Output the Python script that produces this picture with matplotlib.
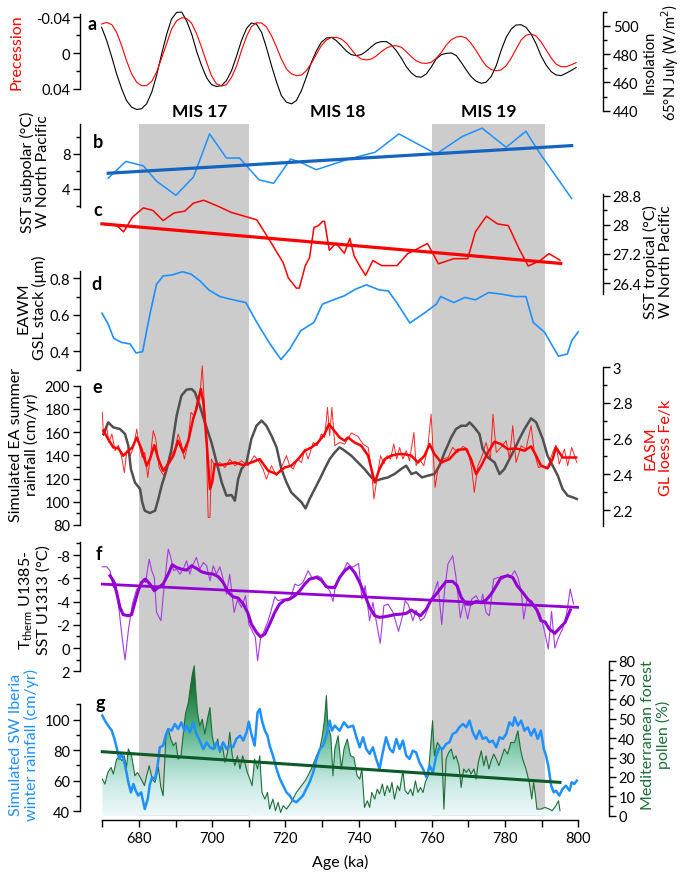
import matplotlib.pyplot as plt
import numpy as np
from matplotlib.colors import LinearSegmentedColormap
from matplotlib.transforms import blended_transform_factory

plt.rcParams['font.family'] = ['Lato', 'DejaVu Sans']
plt.rcParams['font.size'] = 10.5
plt.rcParams['axes.linewidth'] = 1.0

# ---------------- data ----------------
MIS_SHADE = [(680, 710), (760, 791)]
MIS_NAMES = ['MIS 17', 'MIS 18', 'MIS 19']
MIS_LABEL_AGE = [696.7, 734.4, 775.6]

# a: precession and 65N July insolation
A_AGE = [669.8, 671.2, 672.6, 673.9, 675.3, 676.6, 678.0, 679.4, 680.7, 682.1,
         683.5, 684.8, 686.2, 687.6, 688.9, 690.3, 691.7, 693.0, 694.4, 695.7,
         697.1, 698.5, 699.8, 701.2, 702.6, 703.9, 705.3, 706.7, 708.0, 709.4,
         710.7, 712.1, 713.5, 714.8, 716.2, 717.6, 718.9, 720.3, 721.7, 723.0,
         724.4, 725.7, 727.1, 728.5, 729.8, 731.2, 732.6, 733.9, 735.3, 736.7,
         738.0, 739.4, 740.7, 742.1, 743.5, 744.8, 746.2, 747.6, 748.9, 750.3,
         751.7, 753.0, 754.4, 755.7, 757.1, 758.5, 759.8, 761.2, 762.6, 763.9,
         765.3, 766.7, 768.0, 769.4, 770.7, 772.1, 773.5, 774.8, 776.2, 777.6,
         778.9, 780.3, 781.7, 783.0, 784.4, 785.7, 787.1, 788.5, 789.8, 791.2,
         792.6, 793.9, 795.3, 796.7, 798.0, 799.4]
PRECESSION = [-0.0325, -0.0344, -0.0318, -0.0232, -0.0083, 0.0084, 0.0233, 0.0326, 0.0363, 0.0363,
              0.0315, 0.0214, 0.0054, -0.0110, -0.0269, -0.0362, -0.0396, -0.0388, -0.0333, -0.0221,
              -0.0065, 0.0103, 0.0251, 0.0344, 0.0367, 0.0352, 0.0270, 0.0140, -0.0028, -0.0188,
              -0.0295, -0.0340, -0.0336, -0.0295, -0.0195, -0.0065, 0.0065, 0.0177, 0.0233, 0.0251,
              0.0244, 0.0196, 0.0114, 0.0010, -0.0083, -0.0147, -0.0176, -0.0176, -0.0158, -0.0110,
              -0.0042, 0.0028, 0.0065, 0.0076, 0.0065, 0.0032, -0.0017, -0.0057, -0.0080, -0.0083,
              -0.0065, -0.0017, 0.0039, 0.0084, 0.0110, 0.0114, 0.0103, 0.0058, -0.0009, -0.0087,
              -0.0150, -0.0180, -0.0188, -0.0169, -0.0110, -0.0028, 0.0065, 0.0140, 0.0184, 0.0196,
              0.0188, 0.0140, 0.0054, -0.0045, -0.0147, -0.0199, -0.0214, -0.0191, -0.0128, -0.0038,
              0.0054, 0.0121, 0.0151, 0.0151, 0.0132, 0.0106]
INSOLATION = [498.9, 489.5, 477.7, 466.0, 455.4, 447.2, 442.5, 440.9, 441.4, 444.9,
              453.1, 464.8, 480.1, 494.2, 504.7, 509.4, 509.6, 503.5, 494.2, 482.4,
              471.9, 463.2, 458.5, 457.1, 457.8, 461.3, 468.3, 478.9, 489.5, 498.1,
              501.9, 501.2, 495.3, 484.8, 471.9, 460.1, 450.7, 446.0, 444.9, 447.2,
              454.3, 463.6, 474.2, 482.4, 488.3, 491.3, 491.8, 489.5, 485.9, 482.0,
              479.6, 478.9, 479.6, 482.0, 485.2, 487.8, 488.8, 488.8, 486.6, 482.4,
              477.0, 471.2, 466.7, 464.1, 463.7, 466.0, 470.7, 476.6, 479.6, 480.5,
              480.8, 478.9, 474.2, 468.8, 464.1, 460.8, 459.4, 460.1, 464.1, 471.9,
              482.4, 491.8, 497.7, 500.5, 500.7, 498.9, 494.2, 487.1, 478.9, 472.3,
              467.6, 465.3, 464.8, 466.5, 468.3, 470.5]

# b: SST subpolar W North Pacific
SST_SUB = [(671.6, 5.23), (676.4, 7.15), (681.2, 6.65), (684.8, 4.9), (690.1, 3.27),
           (694.9, 5.38), (699.3, 10.3), (703.9, 7.54), (707.5, 7.54), (712.8, 5.04),
           (716.8, 4.65), (721.4, 7.42), (724.2, 7.04), (728.4, 6.2), (737.3, 7.42),
           (744.5, 8.2), (751.0, 10.3), (761.2, 8.0), (768.3, 10.0), (773.7, 10.96),
           (780.3, 8.77), (785.7, 10.6), (789.3, 8.2), (798.2, 2.9)]
SST_SUB_TREND = [(671.6, 5.8), (798.2, 8.96)]

# c: SST tropical W North Pacific
SST_TROP = [(670.4, 28.03), (674.0, 27.98), (675.8, 27.81), (678.2, 28.21), (681.2, 28.47),
            (683.8, 28.40), (686.6, 28.12), (689.6, 28.33), (692.5, 28.38), (694.9, 28.60),
            (697.7, 28.68), (701.5, 28.52), (705.1, 28.35), (712.2, 28.14), (715.8, 27.56),
            (719.4, 26.96), (720.8, 26.54), (723.0, 26.26), (723.8, 26.26), (725.4, 26.87),
            (726.6, 27.10), (727.8, 27.93), (729.0, 27.98), (730.2, 28.10), (730.7, 28.10),
            (732.0, 27.30), (733.8, 27.50), (736.1, 27.22), (737.6, 27.63), (738.8, 27.14),
            (740.3, 26.87), (741.9, 26.61), (743.9, 27.02), (746.3, 26.88), (750.5, 26.88),
            (753.4, 27.21), (755.8, 27.33), (758.8, 27.49), (761.8, 26.93), (766.0, 27.07),
            (769.8, 27.07), (771.9, 27.81), (774.9, 28.24), (777.9, 28.03), (780.9, 27.98),
            (783.9, 27.33), (786.3, 26.87), (789.3, 27.00), (792.0, 27.21), (795.0, 27.03)]
SST_TROP_TREND = [(669.9, 28.03), (795.2, 26.94)]

# d: EAWM GSL grain-size stack
GSL = [(669.9, 0.609), (671.6, 0.549), (673.1, 0.471), (675.2, 0.449), (677.6, 0.44),
       (679.2, 0.391), (681.0, 0.398), (683.0, 0.604), (684.8, 0.767), (686.6, 0.813),
       (689.0, 0.818), (691.9, 0.836), (694.3, 0.822), (696.7, 0.785), (699.1, 0.736),
       (702.1, 0.70), (705.1, 0.685), (709.2, 0.667), (712.2, 0.558), (715.8, 0.44),
       (718.8, 0.355), (721.2, 0.413), (724.2, 0.513), (727.8, 0.558), (730.1, 0.658),
       (733.1, 0.682), (736.1, 0.704), (739.1, 0.74), (742.1, 0.764), (745.7, 0.736),
       (748.1, 0.731), (750.4, 0.667), (754.0, 0.555), (755.8, 0.58), (758.2, 0.613),
       (761.2, 0.658), (762.4, 0.70), (766.0, 0.667), (769.0, 0.695), (771.9, 0.682),
       (775.5, 0.722), (779.1, 0.713), (782.7, 0.70), (785.7, 0.70), (787.7, 0.558),
       (790.8, 0.504), (792.9, 0.431), (794.6, 0.373), (797.0, 0.385), (798.2, 0.458),
       (800.0, 0.507)]

# e: simulated EA summer rainfall and GL loess Fe/k
EA_RAIN = [(670.3, 158.4), (671.6, 168.4), (673.0, 164.1), (674.8, 162.7), (676.2, 158.4),
           (677.1, 148.3), (677.8, 128.2), (678.9, 116.7), (680.3, 111.0), (680.9, 99.5),
           (681.6, 92.3), (683.0, 90.3), (684.4, 92.3), (685.3, 102.4), (686.2, 113.9),
           (687.6, 128.2), (688.9, 145.5), (690.3, 174.2), (691.6, 191.4), (693.0, 196.6),
           (694.4, 197.1), (695.3, 194.3), (696.6, 182.8), (698.0, 168.4), (699.8, 151.2),
           (701.2, 134.0), (702.6, 116.7), (703.9, 105.3), (705.3, 105.8), (706.2, 100.9),
           (707.1, 119.6), (708.0, 128.2), (709.4, 134.0), (710.7, 154.1), (712.1, 165.5),
           (713.5, 169.9), (714.8, 165.5), (716.2, 156.9), (717.6, 146.8), (718.9, 128.2),
           (720.3, 116.7), (721.6, 108.1), (723.0, 103.8), (724.4, 99.5), (725.5, 94.3),
           (726.6, 102.4), (728.0, 111.0), (729.4, 119.6), (730.7, 128.2), (732.1, 136.8),
           (733.5, 142.6), (734.8, 146.9), (736.2, 144.0), (738.0, 139.7), (739.8, 134.0),
           (741.6, 128.2), (743.5, 121.0), (744.8, 118.2), (746.2, 119.6), (748.0, 121.0),
           (749.8, 123.9), (751.6, 128.2), (753.0, 131.1), (754.4, 123.9), (755.7, 125.4),
           (757.3, 121.0), (758.9, 122.5), (760.7, 123.9), (762.1, 131.1), (763.5, 142.6),
           (765.3, 155.5), (766.6, 162.7), (768.0, 165.5), (769.4, 165.5), (770.3, 168.4),
           (771.6, 164.1), (773.0, 158.4), (773.9, 145.4), (775.3, 138.3), (777.1, 134.0),
           (778.5, 123.9), (779.8, 128.2), (781.2, 136.8), (782.6, 145.5), (783.9, 154.1),
           (785.3, 162.7), (787.1, 171.9), (788.5, 168.4), (789.4, 161.2), (790.3, 154.1),
           (791.6, 139.7), (793.0, 131.1), (794.4, 122.5), (795.7, 111.0), (797.1, 105.3),
           (798.5, 103.8), (799.6, 102.4)]
FEK_RAW = [(670.0, 2.746), (670.3, 2.616), (671.2, 2.662), (671.8, 2.578), (672.6, 2.625),
           (673.5, 2.532), (674.4, 2.563), (675.3, 2.494), (676.0, 2.410), (676.7, 2.532),
           (677.6, 2.504), (678.5, 2.550), (679.4, 2.653), (680.1, 2.560), (680.9, 2.494),
           (681.6, 2.522), (682.4, 2.382), (683.1, 2.494), (683.9, 2.644), (684.6, 2.597),
           (685.5, 2.438), (686.2, 2.410), (686.9, 2.392), (687.8, 2.466), (688.7, 2.504),
           (689.8, 2.541), (690.7, 2.625), (691.6, 2.569), (692.4, 2.485), (693.3, 2.560),
           (694.2, 2.746), (695.1, 2.728), (696.0, 2.821), (696.7, 2.858), (697.3, 3.007),
           (697.8, 2.821), (698.4, 2.578), (698.9, 2.159), (699.4, 2.159), (699.8, 2.485),
           (700.7, 2.448), (702.1, 2.466), (703.5, 2.438), (704.8, 2.485), (706.2, 2.448),
           (708.0, 2.476), (709.8, 2.448), (711.5, 2.504), (712.6, 2.476), (713.9, 2.429),
           (714.8, 2.373), (716.2, 2.448), (717.6, 2.392), (718.7, 2.429), (720.3, 2.504),
           (721.2, 2.448), (722.1, 2.429), (723.3, 2.485), (724.4, 2.466), (725.3, 2.541),
           (726.2, 2.485), (727.6, 2.578), (728.7, 2.560), (729.8, 2.625), (730.7, 2.606),
           (731.5, 2.774), (732.1, 2.616), (732.7, 2.774), (733.5, 2.560), (734.8, 2.578),
           (736.2, 2.569), (738.0, 2.631), (739.8, 2.612), (741.2, 2.569), (742.6, 2.550),
           (743.5, 2.429), (744.2, 2.261), (745.1, 2.392), (746.0, 2.504), (746.9, 2.457),
           (747.8, 2.504), (748.7, 2.485), (749.6, 2.569), (750.4, 2.485), (751.2, 2.550),
           (752.1, 2.485), (753.0, 2.532), (753.9, 2.476), (755.1, 2.634), (755.7, 2.448),
           (756.6, 2.485), (757.8, 2.448), (758.9, 2.550), (759.8, 2.737), (760.4, 2.504),
           (760.9, 2.327), (761.8, 2.448), (763.0, 2.485), (764.4, 2.494), (765.7, 2.550),
           (767.1, 2.522), (768.5, 2.556), (769.8, 2.541), (770.9, 2.429), (771.6, 2.299),
           (772.6, 2.448), (773.9, 2.513), (774.8, 2.578), (776.0, 2.485), (776.7, 2.737),
           (777.6, 2.522), (778.9, 2.550), (780.3, 2.588), (781.2, 2.485), (782.1, 2.672),
           (783.0, 2.466), (784.4, 2.560), (785.7, 2.541), (787.1, 2.672), (788.0, 2.522),
           (789.1, 2.438), (790.3, 2.448), (791.6, 2.438), (793.0, 2.522), (793.9, 2.563),
           (794.8, 2.457), (796.2, 2.541), (797.1, 2.448), (798.2, 2.550), (799.6, 2.466)]
FEK_SMOOTH = [(670.3, 2.644), (671.6, 2.597), (673.0, 2.550), (674.4, 2.545), (675.7, 2.504),
              (677.1, 2.532), (678.2, 2.550), (679.4, 2.606), (680.7, 2.541), (682.1, 2.448),
              (683.0, 2.485), (684.2, 2.563), (685.3, 2.485), (686.6, 2.420), (688.0, 2.457),
              (689.4, 2.504), (690.7, 2.588), (692.1, 2.522), (693.5, 2.588), (694.8, 2.709),
              (695.7, 2.765), (696.9, 2.877), (697.6, 2.802), (698.5, 2.578), (699.4, 2.317),
              (700.0, 2.354), (700.7, 2.457), (702.1, 2.451), (703.9, 2.457), (706.2, 2.466),
              (708.5, 2.451), (710.7, 2.466), (713.0, 2.485), (715.3, 2.420), (717.6, 2.401),
              (719.8, 2.438), (721.6, 2.448), (723.5, 2.485), (725.3, 2.532), (727.1, 2.550),
              (728.9, 2.578), (730.7, 2.625), (731.9, 2.681), (733.0, 2.653), (734.8, 2.606),
              (736.2, 2.588), (737.1, 2.606), (738.9, 2.578), (740.7, 2.560), (742.6, 2.504),
              (744.4, 2.354), (745.7, 2.429), (747.1, 2.485), (748.9, 2.504), (750.7, 2.513),
              (752.5, 2.513), (754.4, 2.504), (756.2, 2.466), (758.0, 2.504), (759.4, 2.569),
              (760.7, 2.513), (762.6, 2.466), (764.8, 2.485), (767.1, 2.537), (769.4, 2.541),
              (770.7, 2.485), (772.1, 2.401), (773.5, 2.448), (775.3, 2.522), (777.1, 2.582),
              (778.9, 2.569), (780.7, 2.541), (783.0, 2.545), (785.3, 2.532), (787.1, 2.556),
              (788.5, 2.504), (789.8, 2.448), (791.6, 2.433), (793.0, 2.485), (793.9, 2.550),
              (795.7, 2.494), (797.6, 2.494), (799.4, 2.494)]

# f: Ttherm U1385 - SST U1313
DT_RAW = [(670.0, -6.99), (671.2, -6.99), (672.1, -6.65), (673.0, -5.21), (673.6, -5.64),
          (674.6, -3.21), (675.3, -1.20), (676.2, 1.03), (677.1, -1.49), (678.2, -3.78),
          (679.4, -5.07), (680.3, -5.21), (681.2, -5.93), (681.8, -5.64), (682.8, -7.65),
          (683.5, -6.65), (684.2, -6.07), (684.8, -3.07), (686.0, -2.35), (686.9, -5.36),
          (688.0, -8.51), (688.7, -7.79), (689.5, -6.65), (690.3, -6.79), (691.2, -6.36),
          (692.1, -6.79), (693.0, -7.51), (693.9, -6.36), (694.6, -7.08), (695.7, -7.79),
          (696.6, -6.79), (697.6, -7.36), (698.5, -7.08), (699.4, -5.79), (700.3, -7.08),
          (701.2, -6.36), (702.1, -6.99), (703.0, -5.93), (703.9, -4.64), (704.8, -6.36),
          (706.0, -3.07), (706.9, -4.13), (708.0, -3.50), (709.1, -4.50), (710.0, -2.06),
          (710.9, -1.49), (711.8, -0.92), (712.4, 1.09), (713.2, -0.77), (714.2, -1.49),
          (715.3, -2.35), (716.2, -3.35), (717.1, -4.41), (718.0, -4.07), (719.4, -4.21),
          (720.6, -4.07), (721.6, -4.50), (722.6, -5.50), (723.6, -5.36), (724.8, -5.64),
          (726.2, -6.65), (727.3, -6.02), (728.7, -6.22), (729.8, -6.07), (730.7, -5.50),
          (732.1, -4.93), (733.0, -4.01), (733.6, -5.21), (734.8, -5.93), (736.9, -7.36),
          (738.0, -6.93), (739.1, -7.08), (740.0, -7.28), (740.9, -4.21), (741.8, -5.36),
          (743.0, -2.35), (743.9, -3.93), (744.8, -2.35), (745.9, -0.40), (746.9, -3.64),
          (748.0, -3.78), (749.4, -3.07), (750.9, -1.43), (752.0, -2.78), (752.7, -4.07),
          (753.6, -3.72), (754.8, -2.35), (755.7, -3.27), (756.9, -2.35), (758.0, -2.64),
          (759.4, -3.78), (760.6, -4.79), (761.6, -5.73), (762.7, -2.01), (763.5, -5.07),
          (764.4, -7.22), (765.7, -7.94), (766.6, -6.07), (767.8, -2.58), (768.7, -4.01),
          (769.8, -2.49), (770.9, -4.21), (772.1, -4.50), (773.3, -3.78), (773.9, -4.64),
          (774.8, -3.07), (775.7, -2.78), (776.9, -5.93), (778.0, -6.07), (779.4, -5.93),
          (780.7, -6.36), (781.6, -6.13), (782.6, -6.65), (783.5, -6.07), (784.4, -4.93),
          (785.1, -2.49), (786.0, -4.21), (787.3, -4.07), (788.5, -3.35), (789.6, -2.92),
          (790.7, -1.55), (791.8, 0.09), (792.7, -3.15), (793.6, 0.00), (794.6, -0.92),
          (795.7, -1.63), (796.8, -2.92), (797.8, -5.07), (798.7, -3.78)]
DT_SMOOTH = [(672.1, -6.22), (673.0, -5.79), (673.9, -4.79), (674.8, -3.50), (675.7, -2.87),
             (677.1, -2.78), (678.0, -2.87), (678.9, -3.93), (679.8, -4.93), (680.7, -5.64),
             (681.8, -5.93), (683.0, -5.50), (684.2, -4.93), (685.3, -5.21), (686.6, -5.50),
             (688.0, -6.36), (689.1, -7.16), (690.3, -6.93), (691.6, -6.79), (693.0, -6.70),
             (694.4, -7.08), (695.7, -6.85), (697.1, -6.56), (698.7, -6.42), (700.3, -6.36),
             (701.7, -6.13), (703.0, -5.64), (704.4, -4.79), (705.7, -4.41), (707.1, -4.30),
             (708.5, -3.78), (709.8, -2.98), (710.7, -2.06), (712.1, -1.35), (713.2, -0.97),
             (714.4, -1.20), (715.7, -2.06), (717.1, -3.07), (718.4, -3.78), (719.8, -4.13),
             (721.2, -4.21), (722.6, -4.50), (723.9, -4.93), (725.3, -5.50), (726.6, -5.93),
             (728.5, -6.07), (729.8, -5.85), (731.2, -5.27), (732.5, -5.21), (733.5, -5.21),
             (734.8, -6.07), (736.2, -6.65), (737.6, -6.99), (738.9, -6.50), (740.3, -5.64),
             (741.6, -4.64), (743.0, -3.50), (744.4, -2.78), (745.7, -2.64), (747.1, -2.69),
             (748.5, -2.78), (749.8, -2.87), (751.6, -2.92), (753.0, -2.98), (754.4, -3.27),
             (755.7, -2.98), (756.9, -2.78), (758.5, -3.35), (759.8, -4.13), (761.2, -4.64),
             (762.6, -5.21), (763.9, -5.73), (765.7, -5.73), (766.9, -5.36), (768.0, -4.36),
             (769.4, -3.78), (770.7, -3.78), (772.1, -4.01), (773.5, -3.93), (774.8, -4.13),
             (776.2, -4.64), (777.6, -5.36), (778.9, -6.07), (780.7, -6.22), (782.1, -6.07),
             (783.3, -5.36), (784.8, -4.79), (786.2, -4.21), (787.5, -3.78), (788.7, -3.27),
             (789.8, -2.35), (790.9, -2.26), (792.1, -1.63), (793.6, -1.26), (795.1, -1.78),
             (796.4, -2.21), (797.8, -3.27)]
DT_TREND = [(670.0, -5.5), (799.8, -3.5)]

# g: simulated SW Iberia winter rainfall and Mediterranean forest pollen
IB_RAIN = [(670.0, 102.7), (670.7, 99.4), (671.6, 96.1), (672.6, 92.8), (673.3, 87.4),
           (673.9, 81.9), (674.6, 74.3), (675.3, 77.6), (676.0, 72.1), (676.6, 65.5),
           (677.1, 59.0), (677.8, 52.4), (678.5, 57.9), (679.1, 53.5), (679.8, 50.3),
           (680.6, 52.4), (681.2, 45.9), (681.6, 41.5), (682.4, 48.1), (683.0, 57.9),
           (683.6, 62.3), (684.4, 61.2), (685.1, 69.9), (685.7, 81.9), (686.6, 83.0),
           (687.3, 89.6), (688.0, 93.9), (688.9, 92.8), (689.8, 97.2), (690.7, 93.9),
           (691.6, 98.3), (692.4, 92.8), (693.0, 96.1), (693.9, 91.7), (694.8, 98.3),
           (695.7, 90.7), (696.6, 86.3), (697.6, 80.8), (698.5, 85.2), (699.4, 81.9),
           (700.3, 80.8), (701.2, 85.2), (702.1, 79.7), (703.0, 85.2), (703.9, 80.8),
           (704.8, 83.0), (705.7, 81.9), (706.6, 87.4), (707.6, 89.6), (708.5, 86.3),
           (709.4, 91.7), (710.0, 98.7), (710.7, 90.7), (711.6, 83.0), (712.4, 104.8),
           (713.0, 107.0), (713.6, 99.4), (714.4, 92.8), (715.1, 89.6), (715.7, 83.0),
           (716.6, 76.5), (717.6, 67.7), (718.5, 61.2), (719.4, 56.8), (720.3, 52.4),
           (721.2, 50.3), (722.1, 47.0), (723.0, 45.9), (723.9, 48.1), (724.8, 50.3),
           (725.7, 54.6), (726.6, 59.0), (727.6, 65.5), (728.5, 74.3), (729.4, 80.8),
           (730.3, 83.0), (731.2, 89.6), (732.1, 99.4), (732.7, 92.8), (733.5, 96.1),
           (734.8, 92.8), (736.0, 98.3), (737.1, 95.0), (738.5, 96.1), (739.4, 88.5),
           (740.3, 81.9), (741.2, 88.5), (742.1, 80.8), (743.0, 77.6), (743.9, 81.9),
           (744.8, 74.3), (745.7, 67.7), (746.6, 78.6), (747.5, 88.5), (748.5, 80.8),
           (749.4, 78.6), (750.3, 87.4), (751.2, 80.8), (752.1, 86.3), (753.0, 76.5),
           (753.9, 74.3), (754.8, 79.7), (755.7, 78.6), (756.6, 72.1), (757.6, 67.7),
           (758.5, 62.3), (759.4, 69.9), (760.3, 65.5), (761.2, 76.5), (762.1, 81.9),
           (763.0, 80.8), (763.9, 84.1), (764.8, 85.2), (765.7, 90.7), (766.6, 91.7),
           (767.5, 95.0), (768.5, 97.2), (769.4, 95.0), (770.3, 99.4), (771.2, 91.7),
           (772.1, 87.4), (773.0, 92.8), (773.9, 87.4), (774.8, 88.5), (775.7, 85.2),
           (776.6, 86.3), (777.6, 81.9), (778.5, 88.5), (779.4, 87.4), (780.3, 90.7),
           (781.2, 98.3), (782.1, 96.1), (782.6, 101.6), (783.5, 96.1), (784.4, 99.4),
           (785.3, 92.8), (786.2, 95.0), (787.1, 89.6), (788.0, 93.9), (788.9, 87.4),
           (789.8, 92.8), (790.6, 80.8), (791.2, 76.5), (791.8, 69.9), (792.6, 56.8),
           (793.3, 52.4), (793.9, 53.5), (794.8, 50.3), (795.7, 54.6), (796.6, 56.8),
           (797.6, 53.5), (798.2, 59.0), (798.9, 57.9), (799.6, 60.1)]
POLLEN = [(670.0, 18.9), (670.7, 16.3), (671.5, 22.3), (672.4, 24.9), (673.0, 21.5),
          (673.9, 29.2), (674.6, 30.1), (675.3, 28.4), (676.0, 30.9), (676.6, 24.9),
          (677.1, 34.4), (678.0, 30.9), (678.9, 20.6), (679.6, 22.3), (680.6, 18.9),
          (681.5, 15.5), (682.1, 20.6), (682.8, 25.8), (683.6, 18.9), (684.4, 17.2),
          (685.3, 24.9), (686.0, 14.6), (686.6, 10.3), (687.4, 42.1), (688.0, 44.7),
          (688.7, 39.5), (689.4, 36.1), (690.1, 37.8), (690.7, 29.2), (691.5, 30.9),
          (692.1, 42.1), (692.7, 52.4), (693.5, 58.4), (694.1, 67.0), (694.6, 73.0),
          (695.1, 77.3), (695.5, 65.3), (696.0, 53.3), (696.6, 46.4), (697.3, 49.8),
          (698.0, 42.1), (698.7, 49.8), (699.4, 55.8), (700.0, 41.2), (700.7, 34.4),
          (701.5, 39.5), (702.1, 32.6), (702.8, 36.1), (703.5, 27.5), (704.2, 32.6),
          (704.8, 43.0), (705.5, 30.9), (706.2, 25.8), (706.9, 30.9), (707.6, 24.1),
          (708.3, 30.9), (708.9, 27.5), (709.6, 22.3), (710.3, 18.9), (710.9, 15.5),
          (711.6, 29.2), (712.4, 24.1), (713.0, 30.9), (713.6, 12.0), (714.4, 8.6),
          (715.1, 12.0), (715.7, 3.4), (716.6, 8.6), (717.3, 2.6), (718.0, 6.9),
          (718.7, 1.7), (719.4, 5.2), (720.3, 3.4), (721.6, 6.9), (723.0, 12.0),
          (724.4, 15.5), (725.7, 18.9), (727.1, 24.1), (728.5, 30.9), (729.4, 34.4),
          (730.1, 41.2), (730.7, 49.8), (731.2, 61.9), (731.6, 46.4), (732.4, 41.2),
          (733.0, 20.6), (733.5, 34.4), (734.4, 41.2), (735.3, 24.1), (736.0, 34.4),
          (736.9, 39.5), (737.8, 30.9), (738.7, 30.1), (739.6, 20.6), (740.3, 18.9),
          (740.9, 24.1), (741.6, 4.3), (742.4, 7.7), (743.0, 4.3), (743.6, 12.0),
          (744.4, 8.6), (745.1, 13.7), (745.7, 11.2), (746.5, 16.3), (747.1, 10.3),
          (747.8, 15.5), (748.5, 12.0), (749.1, 17.2), (749.8, 8.6), (750.6, 15.5),
          (751.2, 12.9), (752.1, 23.2), (752.7, 12.9), (753.5, 11.2), (754.2, 13.7),
          (754.8, 10.3), (755.5, 18.0), (756.2, 12.0), (756.9, 14.6), (757.6, 12.0),
          (758.2, 17.2), (759.0, 20.6), (759.6, 34.4), (760.2, 49.0), (760.7, 30.9),
          (761.5, 37.8), (762.1, 36.1), (762.7, 34.4), (763.3, 3.4), (763.9, 29.2),
          (764.6, 32.6), (765.3, 34.4), (766.0, 29.2), (766.6, 30.9), (767.4, 25.8),
          (768.0, 14.6), (768.7, 24.1), (769.4, 22.3), (770.1, 24.1), (770.7, 21.5),
          (771.5, 24.1), (772.1, 18.9), (772.7, 27.5), (773.5, 33.5), (774.2, 25.8),
          (774.8, 30.9), (775.6, 24.1), (776.2, 28.4), (776.9, 31.8), (777.6, 29.2),
          (778.3, 25.8), (778.9, 29.2), (779.8, 34.4), (780.7, 31.8), (781.6, 37.8),
          (782.6, 37.8), (783.5, 43.8), (784.2, 34.4), (784.8, 29.2), (785.7, 24.1),
          (786.6, 17.2), (787.3, 8.6), (787.8, 17.2), (788.3, 10.3), (788.7, 3.4),
          (789.8, 3.4), (790.9, 4.3), (792.1, 3.4), (792.9, 2.6), (793.9, 5.2),
          (794.6, 7.7), (795.0, 2.6)]
POLLEN_TREND = [(670.0, 33.0), (795.0, 17.2)]

# ---------------- layout (figure pixels) ----------------
W, H = 685, 878
X0, X1 = 80, 603
XLIM = (663.9, 806.75)

RED = '#ff0000'
BLUE = '#1e90ff'
PURPLE = '#9400d3'
GREEN = '#1f6e3a'

fig = plt.figure(figsize=(W / 100, H / 100), dpi=100)


def panel(top, bottom):
    ax = fig.add_axes([X0 / W, 1 - bottom / H, (X1 - X0) / W, (bottom - top) / H])
    ax.patch.set_visible(False)
    for sp in ax.spines.values():
        sp.set_visible(False)
    ax.set_xlim(*XLIM)
    ax.set_xticks([])
    ax.set_yticks([])
    return ax


def yaxis(ax, side, ylim, bounds, major, minor=(), labels=None):
    ax.set_ylim(*ylim)
    ax.spines[side].set_visible(True)
    ax.spines[side].set_bounds(*bounds)
    if side == 'right':
        ax.yaxis.tick_right()
    else:
        ax.yaxis.tick_left()
    ax.set_yticks(major, labels=labels if labels else [f'{v:g}' for v in major])
    ax.set_yticks(list(minor), minor=True)
    ax.tick_params(axis='y', which='major', direction='out', length=5, width=1, pad=2,
                   labelsize=10.5)
    ax.tick_params(axis='y', which='minor', direction='out', length=3, width=1)


def pairs(data):
    arr = np.array(data)
    return arr[:, 0], arr[:, 1]


def ylabel(x, y, text, color='black', size=11.5):
    fig.text(x / W, 1 - y / H, text, rotation=90, ha='center', va='center',
             multialignment='center', color=color, fontsize=size, linespacing=1.15)


def letter(x, y, text):
    fig.text(x / W, 1 - y / H, text, ha='center', va='center', fontsize=13,
             fontweight='bold')


# grey MIS shading behind everything
bg = panel(125, 817)
bg.set_ylim(0, 1)
for a0, a1 in MIS_SHADE:
    bg.axvspan(a0, a1, color='#cccccc', lw=0)
tr = blended_transform_factory(bg.transData, fig.transFigure)
for name, age in zip(MIS_NAMES, MIS_LABEL_AGE):
    bg.text(age, 1 - 112 / H, name, transform=tr, ha='center', va='center',
            fontsize=12.5, fontweight='bold')

# a
ax_a2 = panel(10, 118)
ax_a2.plot(A_AGE, INSOLATION, color='black', lw=0.8)
yaxis(ax_a2, 'right', (435.6, 511.8), (440, 510), [440, 460, 480, 500], [450, 470, 490, 510])
ax_a = panel(10, 118)
ax_a.plot(A_AGE, PRECESSION, color=RED, lw=0.8)
yaxis(ax_a, 'left', (0.0713, -0.0493), (-0.0435, 0.04), [-0.04, 0, 0.04], [-0.02, 0.02],
      labels=['-0.04', '0', '0.04'])

# b
ax_b = panel(125, 208)
x, y = pairs(SST_SUB)
ax_b.plot(x, y, color=BLUE, lw=1.1)
x, y = pairs(SST_SUB_TREND)
ax_b.plot(x, y, color='#1565c0', lw=2.3)
yaxis(ax_b, 'left', (1.94, 11.43), (1.94, 11.43), [4, 8], [2, 6, 10])

# c
ax_c = panel(190, 300)
x, y = pairs(SST_TROP)
ax_c.plot(x, y, color=RED, lw=1.1)
x, y = pairs(SST_TROP_TREND)
ax_c.plot(x, y, color=RED, lw=2.3)
yaxis(ax_c, 'right', (25.96, 28.99), (26.1, 28.85), [26.4, 27.2, 28, 28.8], [26.8, 27.6, 28.4])

# d
ax_d = panel(272, 371)
x, y = pairs(GSL)
ax_d.plot(x, y, color=BLUE, lw=1.2)
yaxis(ax_d, 'left', (0.2975, 0.840), (0.3, 0.84), [0.4, 0.6, 0.8], [0.3, 0.5, 0.7])

# e
ax_e = panel(365, 530)
x, y = pairs(EA_RAIN)
ax_e.plot(x, y, color='#505050', lw=1.8)
yaxis(ax_e, 'left', (76.55, 218.7), (80, 200), [80, 100, 120, 140, 160, 180, 200],
      [90, 110, 130, 150, 170, 190])
ax_e2 = panel(365, 530)
x, y = pairs(FEK_RAW)
ax_e2.plot(x, y, color=RED, lw=0.7, alpha=0.85)
x, y = pairs(FEK_SMOOTH)
ax_e2.plot(x, y, color=RED, lw=1.8)
yaxis(ax_e2, 'right', (2.094, 3.017), (2.11, 3.0), [2.2, 2.4, 2.6, 2.8, 3.0],
      [2.3, 2.5, 2.7, 2.9])

# f
ax_f = panel(540, 676)
x, y = pairs(DT_RAW)
ax_f.plot(x, y, color='#a53be0', lw=0.8)
x, y = pairs(DT_SMOOTH)
ax_f.plot(x, y, color=PURPLE, lw=2.2)
x, y = pairs(DT_TREND)
ax_f.plot(x, y, color=PURPLE, lw=2.0)
yaxis(ax_f, 'left', (2.32, -9.38), (-9.12, 2), [-8, -6, -4, -2, 0, 2],
      [-9, -7, -5, -3, -1, 1])

# g: pollen (bottom layer), rainfall, then pollen trend on top
ax_g2 = panel(661, 821)
px, py = pairs(POLLEN)
fill = ax_g2.fill_between(px, 0, py, facecolor='none', edgecolor='none')
pollen_cmap = LinearSegmentedColormap.from_list(
    'pollen', ['#eef8fa', '#cdebe6', '#8dd0b6', '#4aa874', '#1f7a3c', '#0f5a28'])
grad = ax_g2.imshow(np.linspace(0, 1, 256).reshape(-1, 1), cmap=pollen_cmap,
                    origin='lower', aspect='auto', extent=(px[0], px[-1], 0, 80),
                    interpolation='bilinear')
grad.set_clip_path(fill.get_paths()[0], ax_g2.transData)
ax_g2.plot(px, py, color=GREEN, lw=0.8)
ax_g2.set_xlim(*XLIM)
yaxis(ax_g2, 'right', (-2.2, 80.26), (0, 80), list(range(0, 90, 10)), list(range(5, 80, 10)))
ax_g2.spines['right'].set_position(('outward', 4))

ax_g = panel(661, 821)
x, y = pairs(IB_RAIN)
ax_g.plot(x, y, color=BLUE, lw=1.8)
yaxis(ax_g, 'left', (34.3, 139.1), (40, 110), [40, 60, 80, 100], [50, 70, 90, 110])
ax_g.spines['bottom'].set_visible(True)
ax_g.spines['bottom'].set_bounds(670, 800)
ax_g.set_xticks(list(range(680, 801, 20)))
ax_g.set_xticks(list(range(670, 801, 10)), minor=True)
ax_g.tick_params(axis='x', which='both', direction='out', length=5, width=1, pad=3,
                 labelsize=10.5)

ax_g3 = panel(661, 821)
ax_g3.set_ylim(-2.2, 80.26)
x, y = pairs(POLLEN_TREND)
ax_g3.plot(x, y, color='#0b5a27', lw=2.2)

# labels
ylabel(17, 52, 'Precession', RED)
ylabel(662, 62, 'Insolation\n65°N July (W/m$^2$)', size=10.5)
ylabel(35, 172, 'SST subpolar (°C)\nW North Pacific')
ylabel(658, 262, 'SST tropical (°C)\nW North Pacific')
ylabel(32, 308, 'EAWM\nGSL stack (μm)')
ylabel(24, 445, 'Simulated EA summer\nrainfall (cm/yr)')
ylabel(658, 448, 'EASM\nGL loess Fe/k', RED)
ylabel(34, 600, 'T$_{\\mathregular{therm}}$ U1385-\nSST U1313 (°C)')
ylabel(24, 745, 'Simulated SW Iberia\nwinter rainfall (cm/yr)', BLUE)
ylabel(656, 735, 'Mediterranean forest\npollen (%)', GREEN)
fig.text(340 / W, 1 - 862 / H, 'Age (ka)', ha='center', va='center', fontsize=11.5)

letter(92, 24, 'a')
letter(98, 143, 'b')
letter(98, 210, 'c')
letter(97, 285, 'd')
letter(97, 388, 'e')
letter(99, 554, 'f')
letter(100, 703, 'g')

fig.savefig('out.png', dpi=100)
